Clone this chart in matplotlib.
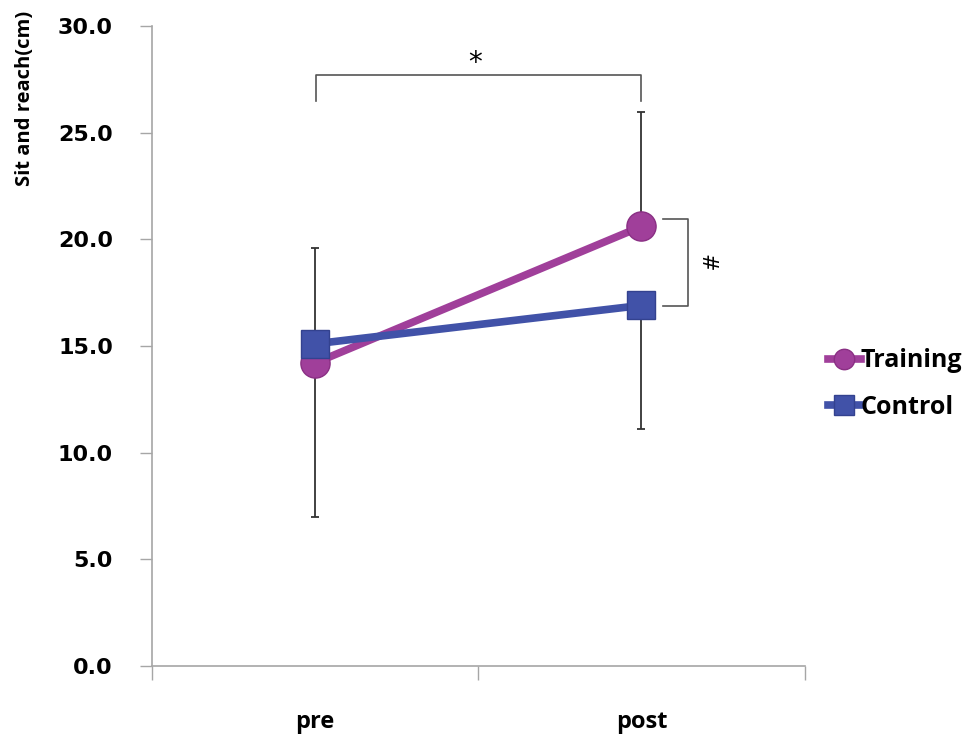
import numpy as np
import matplotlib.pyplot as plt

# sit-and-reach means with one-sided SD bars
phases = ['pre', 'post']
training = [14.2, 20.6]
training_sd = [5.4, 5.35]
control = [15.1, 16.9]
control_sd = [8.1, 5.8]

c_train = '#A03F9A'
c_ctrl = '#4152A8'
grey = '#A6A6A6'
label_font = 'Open Sans'

fig = plt.figure(figsize=(9.73, 7.4), dpi=100)
ax = fig.add_axes([0.156, 0.1, 0.671, 0.865])

x = np.array([0.5, 1.5])

# error bars first so the markers sit on top
ax.errorbar(x, training, yerr=[np.zeros(2), training_sd], fmt='none',
            ecolor='#333333', elinewidth=1.3, capsize=3, capthick=1.3, zorder=1)
ax.errorbar(x, control, yerr=[control_sd, np.zeros(2)], fmt='none',
            ecolor='#333333', elinewidth=1.3, capsize=3, capthick=1.3, zorder=1)

ax.plot(x, training, color=c_train, lw=5.5, marker='o', ms=21,
        mfc=c_train, mec='#8A2F84', mew=1, label='Training', zorder=3)
ax.plot(x, control, color=c_ctrl, lw=5.5, marker='s', ms=20,
        mfc=c_ctrl, mec='#33428F', mew=1, label='Control', zorder=4)

# significance brackets
ax.plot([0.502, 0.502, 1.5, 1.5], [26.5, 27.7, 27.7, 26.5],
        color='#555555', lw=1.2, zorder=2)
ax.text(0.99, 27.6, '*', ha='center', va='bottom', fontsize=20,
        color='black')
ax.plot([1.565, 1.642, 1.642, 1.565], [20.95, 20.95, 16.85, 16.85],
        color='#555555', lw=1.2, zorder=2)
ax.text(1.70, 18.9, '#', ha='center', va='center', fontsize=15,
        rotation=-90, color='black')

ax.set_xlim(0, 2)
ax.set_ylim(0, 30)
ax.set_yticks(np.arange(0, 31, 5))
ax.set_yticklabels([f'{v:.1f}' for v in np.arange(0, 31, 5)],
                   fontsize=16, fontweight='bold', family='DejaVu Sans')
ax.set_xticks([0, 1, 2])
ax.set_xticklabels([])
ax.set_xticks(x, minor=True)
ax.set_xticklabels(phases, minor=True, fontsize=17, fontweight='bold',
                   family=label_font)
ax.tick_params(axis='x', which='minor', length=0, pad=32)
ax.tick_params(axis='x', which='major', length=10, color=grey, width=1)
ax.tick_params(axis='y', length=9, color=grey, width=1, pad=19)

for s in ['top', 'right']:
    ax.spines[s].set_visible(False)
for s in ['left', 'bottom']:
    ax.spines[s].set_color(grey)
    ax.spines[s].set_linewidth(1.2)

fig.text(0.026, 0.867, 'Sit and reach(cm)', rotation=90, ha='center', va='center',
         fontsize=14.5, fontweight='bold', family=label_font)

leg = fig.legend(loc='center left', bbox_to_anchor=(0.828, 0.481), frameon=False,
                 prop={'family': label_font, 'weight': 'bold', 'size': 18},
                 handlelength=1.3, handletextpad=0.0, labelspacing=0.85,
                 markerscale=0.7)

fig.savefig('out.png', dpi=100)
